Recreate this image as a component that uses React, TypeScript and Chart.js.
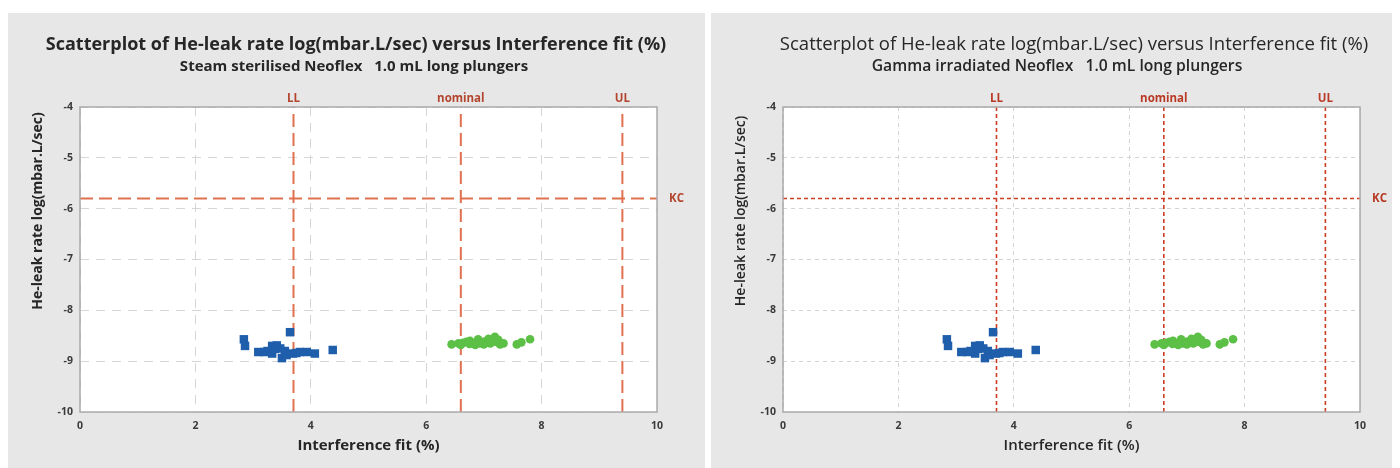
import React, { useEffect, useRef } from 'react';
import { Chart, registerables } from 'chart.js';

Chart.register(...registerables);

// ---- data ----
const blueX = [2.84, 2.86, 3.64, 3.09, 3.2, 3.33, 3.41, 3.47, 3.33, 3.5, 3.58, 3.69, 3.81, 3.93, 4.07, 4.38, 3.38, 3.55, 3.75, 3.25];
const blueY = [-8.57, -8.7, -8.43, -8.82, -8.82, -8.7, -8.69, -8.75, -8.85, -8.94, -8.88, -8.85, -8.82, -8.82, -8.85, -8.78, -8.76, -8.8, -8.84, -8.8];
const greenX = [6.44, 6.56, 6.64, 6.7, 6.76, 6.82, 6.9, 6.93, 6.99, 7.05, 7.11, 7.19, 7.22, 7.28, 7.34, 7.57, 7.65, 7.8, 6.85, 7.0, 7.15, 6.75, 7.25, 6.6, 7.08];
const greenY = [-8.67, -8.65, -8.64, -8.62, -8.6, -8.65, -8.57, -8.65, -8.62, -8.6, -8.65, -8.52, -8.62, -8.67, -8.65, -8.67, -8.63, -8.57, -8.68, -8.67, -8.62, -8.66, -8.58, -8.68, -8.56];
const refNames = ['LL', 'nominal', 'UL'];
const refValues = [3.7, 6.6, 9.4];
const kcName = 'KC';
const kcValue = -5.8;
const xMin = 0, xMax = 10, xStep = 2;
const yMin = -10, yMax = -4, yStep = 1;
const mainTitle = 'Scatterplot of He-leak rate log(mbar.L/sec) versus Interference fit (%)';
const subTitles = ['Steam sterilised Neoflex   1.0 mL long plungers', 'Gamma irradiated Neoflex   1.0 mL long plungers'];
const xTitle = 'Interference fit (%)';
const yTitle = 'He-leak rate log(mbar.L/sec)';

type PanelCfg = {
  width: number;
  height: number;
  subtitle: string;
  titleFont: string;
  subFont: string;
  titleX: number;
  subX: number;
  refColor: string;
  refWidth: number;
  refDash: number[];
  labelColor: string;
  gridDash: number[];
  gridColor: string;
  axisTitleFont: string;
  yTitleFont: string;
};

const FONT = '"Open Sans", Lato, sans-serif';

function Panel({ cfg }: { cfg: PanelCfg }) {
  const ref = useRef<HTMLCanvasElement | null>(null);
  useEffect(() => {
    if (!ref.current) return;
    const textPlugin = {
      id: 'texts',
      beforeDraw(chart: any) {
        const { ctx, chartArea } = chart;
        ctx.save();
        ctx.fillStyle = '#ffffff';
        ctx.fillRect(chartArea.left, chartArea.top, chartArea.right - chartArea.left, chartArea.bottom - chartArea.top);
        ctx.restore();
      },
      afterDraw(chart: any) {
        const { ctx, chartArea } = chart;
        const { left, right, top, bottom } = chartArea;
        const xs = chart.scales.x;
        const ys = chart.scales.y;
        ctx.save();
        ctx.strokeStyle = '#ababab';
        ctx.lineWidth = 1.5;
        ctx.strokeRect(left, top, right - left, bottom - top);
        ctx.textAlign = 'center';
        ctx.textBaseline = 'middle';
        ctx.fillStyle = '#262626';
        ctx.font = cfg.titleFont;
        ctx.fillText(mainTitle, cfg.titleX, 32);
        ctx.font = cfg.subFont;
        ctx.fillText(cfg.subtitle, cfg.subX, 54);
        ctx.font = cfg.axisTitleFont;
        ctx.fillText(xTitle, (left + right) / 2, 433);
        ctx.save();
        ctx.translate(30, 198);
        ctx.rotate(-Math.PI / 2);
        ctx.font = cfg.yTitleFont;
        ctx.fillText(yTitle, 0, 0);
        ctx.restore();
        ctx.fillStyle = cfg.labelColor;
        ctx.font = 'bold 11.5px ' + FONT;
        refNames.forEach((n, i) => {
          ctx.fillText(n, xs.getPixelForValue(refValues[i]), top - 8);
        });
        ctx.textAlign = 'left';
        ctx.fillText(kcName, right + 12, ys.getPixelForValue(kcValue));
        ctx.restore();
      },
    };

    const refLine = (pts: { x: number; y: number }[]) => ({
      type: 'line' as const,
      data: pts,
      borderColor: cfg.refColor,
      borderWidth: cfg.refWidth,
      borderDash: cfg.refDash,
      pointRadius: 0,
      fill: false,
      order: 2,
    });

    const chart = new Chart(ref.current, {
      type: 'scatter',
      data: {
        datasets: [
          {
            label: 'steam',
            data: blueX.map((x, i) => ({ x, y: blueY[i] })),
            pointStyle: 'rect',
            pointRadius: 6,
            backgroundColor: '#1f5eab',
            borderColor: '#1f5eab',
            borderWidth: 0,
            order: 0,
          },
          {
            label: 'gamma',
            data: greenX.map((x, i) => ({ x, y: greenY[i] })),
            pointStyle: 'circle',
            pointRadius: 4.3,
            backgroundColor: '#5cbf46',
            borderColor: '#5cbf46',
            borderWidth: 0,
            order: 0,
          },
          ...refValues.map((v) => refLine([{ x: v, y: yMin }, { x: v, y: yMax }])),
          refLine([{ x: xMin, y: kcValue }, { x: xMax, y: kcValue }]),
        ] as any,
      },
      options: {
        animation: false,
        responsive: false,
        devicePixelRatio: 1,
        layout: { padding: { left: 22, right: cfg.width - 649, top: 94, bottom: cfg.height - 399 - 30 } },
        plugins: { legend: { display: false }, tooltip: { enabled: false }, title: { display: false } },
        scales: {
          x: {
            type: 'linear',
            min: xMin,
            max: xMax,
            ticks: { stepSize: xStep, padding: 8, color: '#3a3a3a', font: { family: FONT, size: 10.5, weight: 'bold' } },
            grid: { color: cfg.gridColor, drawTicks: false, lineWidth: 1 },
            border: { display: false, dash: cfg.gridDash },
            afterFit: (s: any) => { s.height = 30; },
          },
          y: {
            type: 'linear',
            min: yMin,
            max: yMax,
            ticks: { stepSize: yStep, padding: 7, color: '#3a3a3a', font: { family: FONT, size: 10.5, weight: 'bold' } },
            grid: { color: cfg.gridColor, drawTicks: false, lineWidth: 1 },
            border: { display: false, dash: cfg.gridDash },
            afterFit: (s: any) => { s.width = 50; },
          },
        },
      } as any,
      plugins: [textPlugin],
    });
    return () => chart.destroy();
  }, [cfg]);
  return <canvas ref={ref} width={cfg.width} height={cfg.height} style={{ width: cfg.width, height: cfg.height, display: 'block' }} />;
}

const leftCfg: PanelCfg = {
  width: 697,
  height: 455,
  subtitle: subTitles[0],
  titleFont: 'bold 18px ' + FONT,
  subFont: 'bold 15px ' + FONT,
  titleX: 348,
  subX: 346,
  refColor: '#e0714f',
  refWidth: 2,
  refDash: [13, 6],
  labelColor: '#b3452f',
  gridDash: [9, 7],
  gridColor: '#d6d6d6',
  axisTitleFont: 'bold 15px ' + FONT,
  yTitleFont: 'bold 14px ' + FONT,
};

const rightCfg: PanelCfg = {
  width: 689,
  height: 455,
  subtitle: subTitles[1],
  titleFont: '18.5px ' + FONT,
  subFont: '600 15.7px ' + FONT,
  titleX: 363,
  subX: 346,
  refColor: '#cc3d22',
  refWidth: 1.6,
  refDash: [4, 3],
  labelColor: '#b83a24',
  gridDash: [4, 4],
  gridColor: '#d2d2d2',
  axisTitleFont: '600 15px ' + FONT,
  yTitleFont: '600 14px ' + FONT,
};

export default function App() {
  useEffect(() => {
    document.documentElement.style.overflow = 'hidden';
    document.body.style.overflow = 'hidden';
  }, []);
  return (
    <div style={{ position: 'relative', width: 1392, height: 460 }}>
      <div style={{ position: 'absolute', left: 0, top: 5, width: 697, height: 455, background: '#e7e7e7' }}>
        <Panel cfg={leftCfg} />
      </div>
      <div style={{ position: 'absolute', left: 703, top: 5, width: 689, height: 455, background: '#e7e7e7' }}>
        <Panel cfg={rightCfg} />
      </div>
    </div>
  );
}
